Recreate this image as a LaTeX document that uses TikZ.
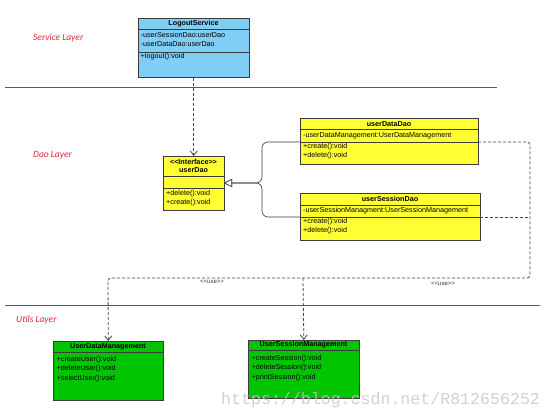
\documentclass[tikz,border=0pt]{standalone}
\usepackage{fontspec}
\setmainfont{Liberation Sans}
\newfontfamily\layerfont{Carlito}
\newfontfamily\wmfont{Liberation Mono}
\usetikzlibrary{arrows.meta}
\definecolor{svcblue}{RGB}{128,206,245}
\definecolor{daoyellow}{RGB}{255,255,51}
\definecolor{utilgreen}{RGB}{0,196,0}
\definecolor{boxline}{RGB}{60,60,60}
\definecolor{layerred}{RGB}{225,35,55}
\definecolor{linegray}{RGB}{90,90,90}
\definecolor{depgray}{RGB}{70,70,70}
\begin{document}
\begin{tikzpicture}[x=1pt,y=-1pt,
  cls/.style={draw=boxline, line width=0.6pt, inner sep=0pt, anchor=north west},
  divider/.style={draw=boxline, line width=0.6pt},
  ttl/.style={font=\bfseries\fontsize{7.2}{8.5}\selectfont, inner sep=0pt, align=center},
  mem/.style={font=\fontsize{7.2}{8}\selectfont, anchor=west, inner sep=0pt},
  layer/.style={font=\layerfont\itshape\fontsize{9.5}{11}\selectfont, text=layerred, anchor=west, inner sep=0pt},
  layerline/.style={draw=linegray, line width=1pt},
  dep/.style={draw=depgray, line width=0.8pt, dash pattern=on 3pt off 2pt, rounded corners=3pt},
  deptip/.style={-{Straight Barb[length=4.5pt,width=7pt]}},
  inh/.style={draw=boxline, line width=0.6pt, rounded corners=6pt, -{Triangle[open,length=8pt,width=8pt,fill=white]}},
  uselbl/.style={font=\fontsize{6}{6.5}\selectfont, inner sep=0pt, text=boxline}
]
\fill[white] (0,0) rectangle (553,419);
\useasboundingbox (0,0) rectangle (553,419);

% layer lines and labels
\draw[layerline] (5,88) -- (497,88);
\draw[layerline] (5,305) -- (540,305);
\node[layer] (svclayer) at (33,38) {Service Layer};
\node[layer] (daolayer) at (33,155) {Dao Layer};
\node[layer] (utilslayer) at (16,320) {Utils Layer};

% LogoutService
\node[cls, fill=svcblue, minimum width=111pt, minimum height=59pt] (logout) at (138,18) {};
\draw[divider] (138,29) -- (249,29);
\draw[divider] (138,52) -- (249,52);
\node[ttl] (logoutT) at (193.5,23.5) {LogoutService};
\node[mem] (logoutA1) at (140.5,35) {-userSessionDao:userDao};
\node[mem] (logoutA2) at (140.5,44.5) {-userDataDao:userDao};
\node[mem] (logoutM1) at (140.5,56.5) {+logout():void};

% userDao
\node[cls, fill=daoyellow, minimum width=61pt, minimum height=54pt] (userdao) at (163,156) {};
\draw[divider] (163,176) -- (224,176);
\draw[divider] (163,188) -- (224,188);
\node[ttl] (userdaoT) at (193.5,166) {{<}{<}Interface{>}{>}\\userDao};
\node[mem] (userdaoM1) at (166,194) {+delete():void};
\node[mem] (userdaoM2) at (166,203) {+create():void};

% userDataDao
\node[cls, fill=daoyellow, minimum width=178pt, minimum height=46pt] (udd) at (300,118) {};
\draw[divider] (300,129) -- (478,129);
\draw[divider] (300,142) -- (478,142);
\node[ttl] (uddT) at (389,124) {userDataDao};
\node[mem] (uddA1) at (303,135.5) {-userDataManagement:UserDataManagement};
\node[mem] (uddM1) at (303,147) {+create():void};
\node[mem] (uddM2) at (303,156) {+delete():void};

% userSessionDao
\node[cls, fill=daoyellow, minimum width=180pt, minimum height=47pt] (usd) at (300,193) {};
\draw[divider] (300,205) -- (480,205);
\draw[divider] (300,217) -- (480,217);
\node[ttl] (usdT) at (390,199) {userSessionDao};
\node[mem] (usdA1) at (303,211) {-userSessionManagment:UserSessionManagement};
\node[mem] (usdM1) at (303,222) {+create():void};
\node[mem] (usdM2) at (303,231) {+delete():void};

% UserDataManagement
\node[cls, fill=utilgreen, minimum width=110pt, minimum height=59pt] (udm) at (53,341) {};
\draw[divider] (53,352) -- (163,352);
\node[ttl] (udmT) at (108,346.5) {UserDataManagement};
\node[mem] (udmM1) at (56.5,359.5) {+createUser():void};
\node[mem] (udmM2) at (56.5,369) {+deleteUser():void};
\node[mem] (udmM3) at (56.5,378.5) {+selectUser():void};

% UserSessionManagement
\node[cls, fill=utilgreen, minimum width=111pt, minimum height=58pt] (usm) at (248,340) {};
\draw[divider] (248,350) -- (359,350);
\node[ttl] (usmT) at (303.5,345) {UserSessionManagement};
\node[mem] (usmM1) at (251.5,358.5) {+createSession():void};
\node[mem] (usmM2) at (251.5,368) {+deleteSession():void};
\node[mem] (usmM3) at (251.5,377.5) {+printSession():void};

% dependency LogoutService -> userDao
\draw[dep, deptip] (logout.south) -- (userdao.north);

% realization / inheritance
\coordinate (udd-in) at (300,142);
\coordinate (usd-in) at (300,217);
\coordinate (dao-in) at (224,183);
\draw[inh] (udd-in) -- (262,142) -- (262,183) -- (dao-in);
\draw[inh] (usd-in) -- (262,217) -- (262,183) -- (dao-in);

% use dependencies
\coordinate (udd-out) at (478,142);
\coordinate (usd-out) at (480,217);
\coordinate (trunkjoin) at (530,217);
\coordinate (usmdrop) at (303,278);
\draw[dep, deptip] (udd-out) -- (530,142) -- (530,278) -- (108,278) -- (udm.north);
\draw[dep] (usd-out) -- (trunkjoin);
\draw[dep, deptip] (usmdrop) -- (usm.north);
\node[uselbl] (use1) at (212,282) {{<}{<}use{>}{>}};
\node[uselbl] (use2) at (443,284) {{<}{<}use{>}{>}};

% watermark
\node[font=\wmfont\fontsize{16.6}{18}\selectfont, text=gray!45, text opacity=0.8, anchor=west, inner sep=0pt] (wm) at (221,400) {https://blog.csdn.net/R812656252};
\end{tikzpicture}
\end{document}
